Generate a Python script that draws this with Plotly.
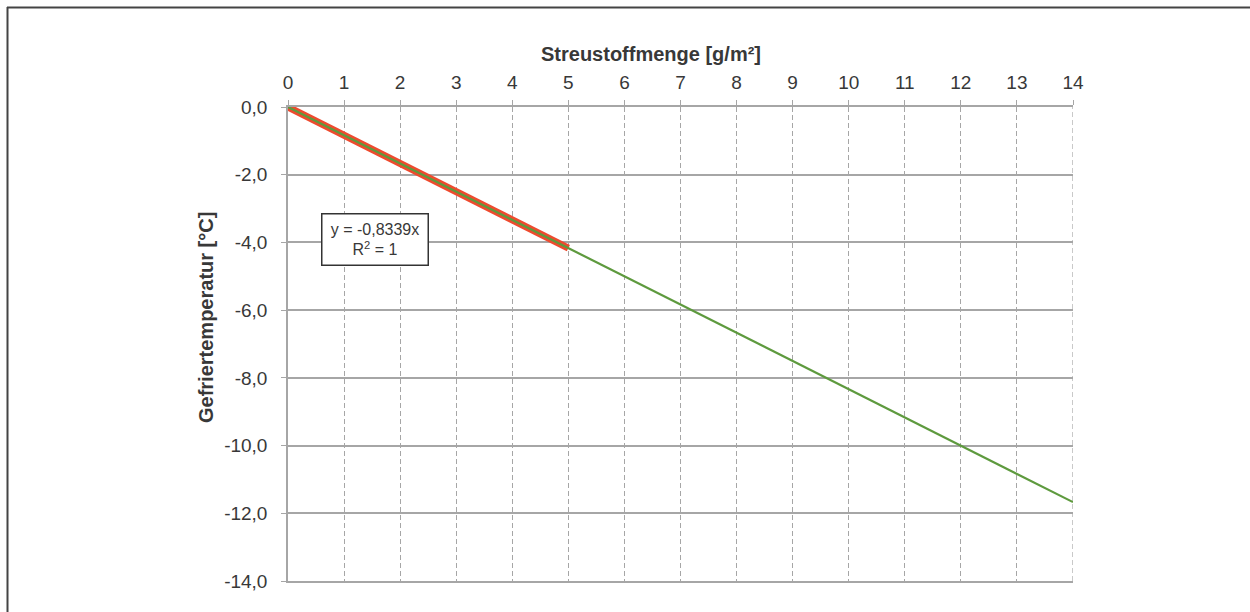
import plotly.graph_objects as go

# Data
measured_x = [0, 1, 2, 3, 4, 5]
measured_y = [0.0, -0.83, -1.67, -2.50, -3.34, -4.17]
trend_x = [0, 14]
trend_y = [0.0, -11.67]
x_ticks = list(range(0, 15))
y_ticks = [0, -2, -4, -6, -8, -10, -12, -14]
y_tick_labels = ["0,0", "-2,0", "-4,0", "-6,0", "-8,0", "-10,0", "-12,0", "-14,0"]

W, H = 1250, 612
L, R, T, B = 288, 1073, 107, 581

def px2paper_x(px):
    return (px - L) / (R - L)

def px2paper_y(py):
    return (B - py) / (B - T)

fig = go.Figure()
fig.add_trace(go.Scatter(x=measured_x, y=measured_y, mode="lines",
                         line=dict(color="#ee4a2e", width=7), showlegend=False))
fig.add_trace(go.Scatter(x=trend_x, y=trend_y, mode="lines",
                         line=dict(color="#5e9a3e", width=2.2), showlegend=False))

grid = "#a6a6a6"
txt = "#383838"
fig.update_layout(
    width=W, height=H,
    margin=dict(l=L, r=W - R, t=T, b=H - B),
    paper_bgcolor="white", plot_bgcolor="white",
    separators=",.",
    font=dict(family="Liberation Sans, Arial, sans-serif", color=txt, size=19),
    xaxis=dict(range=[0, 14], side="top", tickvals=x_ticks, showgrid=True,
               gridcolor=grid, griddash="5px,3px", gridwidth=1.2,
               showline=True, linecolor=grid, linewidth=1.5, mirror=True,
               ticks="outside", ticklen=5, tickcolor=grid,
               ticklabelstandoff=4, zeroline=False,
               tickfont=dict(size=19, color=txt)),
    yaxis=dict(range=[-14, 0], tickvals=y_ticks, ticktext=y_tick_labels, showgrid=True,
               gridcolor=grid, gridwidth=1.5,
               showline=True, linecolor=grid, linewidth=1.5,
               ticks="outside", ticklen=5, tickcolor=grid,
               ticklabelstandoff=10, zeroline=False,
               tickfont=dict(size=19, color=txt)),
)

# dashed gridline at the right edge (last x tick)
fig.add_shape(type="line", xref="x", yref="paper", x0=x_ticks[-1], x1=x_ticks[-1], y0=0, y1=1,
              line=dict(color=grid, width=1.2, dash="5px,3px"), layer="below")

fig.add_annotation(x=px2paper_x(651), y=px2paper_y(41), xref="paper", yref="paper",
                   text="<b>Streustoffmenge [g/m²]</b>", showarrow=False,
                   font=dict(size=20, color=txt))
fig.add_annotation(x=px2paper_x(193), y=px2paper_y(318), xref="paper", yref="paper",
                   text="<b>Gefriertemperatur [°C]</b>", showarrow=False, textangle=-90,
                   font=dict(size=20, color=txt))
fig.add_annotation(x=1.55, y=-3.91, xref="x", yref="y",
                   text="y = -0,8339x<br>R<sup>2</sup> = 1", showarrow=False,
                   font=dict(size=16, color=txt),
                   bgcolor="white", bordercolor="#333333", borderwidth=1.5,
                   width=103, height=48, align="center")

# outer frame (top and left edges)
fig.add_shape(type="line", xref="paper", yref="paper",
              x0=px2paper_x(7), x1=px2paper_x(1250), y0=px2paper_y(7.5), y1=px2paper_y(7.5),
              line=dict(color="#444444", width=2))
fig.add_shape(type="line", xref="paper", yref="paper",
              x0=px2paper_x(7.5), x1=px2paper_x(7.5), y0=px2paper_y(7), y1=px2paper_y(612),
              line=dict(color="#444444", width=2))

fig.write_html("out.html", config={"displayModeBar": False},
               post_script="document.body.style.margin='0';")
